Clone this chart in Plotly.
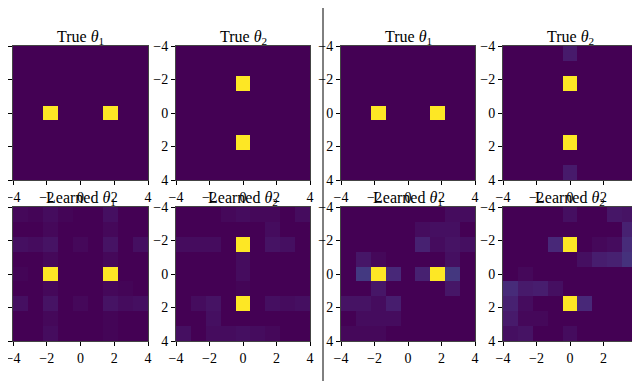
import numpy as np
import plotly.graph_objects as go

# 9x9 grids over [-4, 4] x [-4, 4]; rows go top (y=-4) to bottom (y=4)
n = 9
edges = np.linspace(-4, 4, n + 1)
centers = (edges[:-1] + edges[1:]) / 2

titles = ["True <i>θ</i><sub>1</sub>", "True <i>θ</i><sub>2</sub>",
          "True <i>θ</i><sub>1</sub>", "True <i>θ</i><sub>2</sub>",
          "Learned <i>θ</i><sub>1</sub>", "Learned <i>θ</i><sub>2</sub>",
          "Learned <i>θ</i><sub>1</sub>", "Learned <i>θ</i><sub>2</sub>"]


def grid(cells):
    z = np.zeros((n, n))
    for (r, c), v in cells.items():
        z[r, c] = v
    return z


true_t1_left = {(4, 2): 1, (4, 6): 1}
true_t2_left = {(2, 4): 1, (6, 4): 1}
true_t1_right = {(4, 2): 1, (4, 6): 1}
true_t2_right = {(2, 4): 1, (6, 4): 1, (0, 4): 0.07, (8, 4): 0.07}

learned_t1_left = {
    (0, 0): 0.02, (0, 2): 0.03, (0, 6): 0.04, (0, 1): 0.01, (0, 3): 0.01,
    (1, 2): 0.02, (1, 6): 0.02,
    (2, 0): 0.04, (2, 1): 0.03, (2, 2): 0.05, (2, 4): 0.02, (2, 6): 0.05, (2, 8): 0.04,
    (3, 2): 0.02, (3, 6): 0.02,
    (4, 0): 0.01, (4, 2): 1, (4, 6): 1,
    (5, 2): 0.02, (5, 6): 0.02, (5, 7): 0.01,
    (6, 0): 0.04, (6, 2): 0.05, (6, 4): 0.02, (6, 6): 0.05, (6, 7): 0.03, (6, 8): 0.04,
    (7, 2): 0.02, (7, 6): 0.01,
    (8, 2): 0.03, (8, 6): 0.01,
}
learned_t2_left = {
    (0, 3): 0.02, (0, 4): 0.03, (0, 5): 0.02, (0, 6): 0.02, (0, 8): 0.03,
    (1, 6): 0.03,
    (2, 0): 0.03, (2, 1): 0.03, (2, 2): 0.03, (2, 4): 1, (2, 6): 0.05, (2, 7): 0.04,
    (3, 4): 0.03,
    (4, 4): 0.03,
    (5, 4): 0.01,
    (6, 1): 0.03, (6, 2): 0.05, (6, 4): 1, (6, 6): 0.04, (6, 7): 0.03, (6, 8): 0.04,
    (7, 2): 0.04,
    (8, 0): 0.04, (8, 2): 0.03, (8, 3): 0.03, (8, 4): 0.04, (8, 5): 0.03, (8, 6): 0.02,
}
learned_t1_right = {
    (0, 7): 0.03, (0, 8): 0.03,
    (1, 5): 0.03, (1, 6): 0.04, (1, 7): 0.04,
    (2, 5): 0.09, (2, 6): 0.03, (2, 7): 0.05, (2, 8): 0.04,
    (3, 1): 0.06, (3, 2): 0.02, (3, 7): 0.04,
    (4, 1): 0.17, (4, 2): 1, (4, 3): 0.11, (4, 5): 0.09, (4, 6): 1, (4, 7): 0.16,
    (5, 2): 0.06, (5, 7): 0.06,
    (6, 0): 0.05, (6, 1): 0.05, (6, 2): 0.03, (6, 3): 0.08,
    (7, 1): 0.03, (7, 2): 0.03, (7, 3): 0.03,
    (8, 0): 0.02, (8, 1): 0.02, (8, 2): 0.02,
}
learned_t2_right = {
    (0, 4): 0.04, (0, 7): 0.06, (0, 8): 0.05,
    (1, 8): 0.09,
    (2, 3): 0.11, (2, 4): 1, (2, 6): 0.02, (2, 7): 0.03, (2, 8): 0.12,
    (3, 5): 0.04, (3, 6): 0.08, (3, 7): 0.09, (3, 8): 0.14,
    (4, 1): 0.02,
    (5, 0): 0.12, (5, 1): 0.07, (5, 2): 0.08, (5, 3): 0.04,
    (6, 0): 0.09, (6, 1): 0.03, (6, 4): 1, (6, 5): 0.11,
    (7, 0): 0.07, (7, 1): 0.02, (7, 2): 0.02,
    (8, 0): 0.04, (8, 1): 0.05, (8, 4): 0.03,
}

panels = [true_t1_left, true_t2_left, true_t1_right, true_t2_right,
          learned_t1_left, learned_t2_left, learned_t1_right, learned_t2_right]

# page body has an 8px margin, so the figure is drawn 8px in from the corner
OFF = 8
W, H = 640, 384
col_px = [(13, 148), (176, 310), (341, 475), (503, 637)]
row_px = [(46, 180), (207, 341)]

fig = go.Figure()
font = "Liberation Serif"
layout = dict(width=W, height=H, margin=dict(l=0, r=0, t=0, b=0, autoexpand=False),
              plot_bgcolor="white", paper_bgcolor="white",
              font=dict(family=font, size=14, color="black"),
              showlegend=False)
annotations = []

for i, cells in enumerate(panels):
    r, c = divmod(i, 4)
    k = i + 1
    xa = "x" if k == 1 else f"x{k}"
    ya = "y" if k == 1 else f"y{k}"
    fig.add_trace(go.Heatmap(
        z=grid(cells), x=centers, y=centers,
        colorscale="Viridis", zmin=0, zmax=1, showscale=False,
        xaxis=xa, yaxis=ya, hoverinfo="skip"
    ))
    x0, x1 = [p - OFF for p in col_px[c]]
    y0, y1 = [p - OFF for p in row_px[r]]
    axis_common = dict(
        tickvals=[-4, -2, 0, 2, 4], ticks="outside", ticklen=4,
        tickcolor="black", showline=True, linecolor="#444", linewidth=1,
        mirror=True, showgrid=False, zeroline=False, automargin=False,
        ticklabeloverflow="allow",
        tickfont=dict(family=font, size=14, color="black")
    )
    layout["xaxis" if k == 1 else f"xaxis{k}"] = dict(
        axis_common, domain=[x0 / W, x1 / W], range=[-4, 4],
        anchor=ya, ticklabelstandoff=0
    )
    layout["yaxis" if k == 1 else f"yaxis{k}"] = dict(
        axis_common, domain=[1 - y1 / H, 1 - y0 / H], range=[4, -4],
        anchor=xa, ticklabelstandoff=0
    )
    annotations.append(dict(
        text=titles[i], x=(x0 + x1) / 2 / W, y=1 - (y0 + 3) / H,
        xref="paper", yref="paper", xanchor="center", yanchor="bottom",
        showarrow=False, font=dict(family=font, size=16, color="black")
    ))

layout["annotations"] = annotations
layout["shapes"] = [dict(type="line", xref="paper", yref="paper",
                         x0=(323 - OFF) / W, x1=(323 - OFF) / W,
                         y0=1 - (381 - OFF) / H, y1=1,
                         line=dict(color="black", width=1))]
fig.update_layout(**layout)

fig.write_html("out.html")
